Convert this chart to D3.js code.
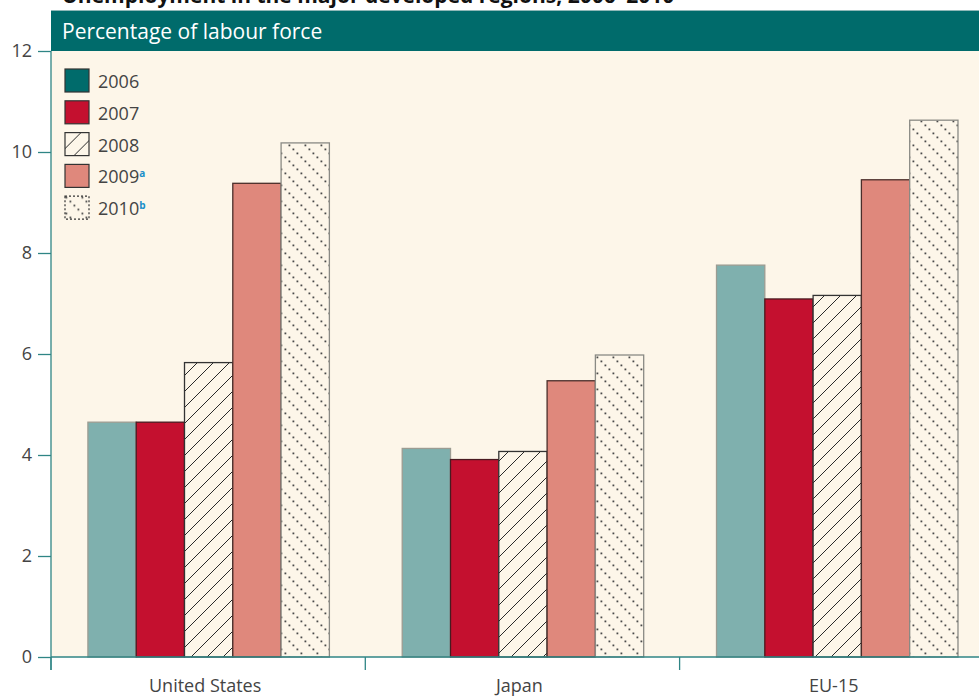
<!DOCTYPE html>
<html>
<head>
<meta charset="utf-8">
<script src="https://cdn.jsdelivr.net/npm/d3@7"></script>
<style>
  body { margin: 0; background: #fff; }
  text { font-family: "Open Sans", "Noto Sans", sans-serif; }
</style>
</head>
<body>
<div class="chart"></div>
<script>
const svgWidth = 979;
const svgHeight = 698;

// plot area (the cream panel), right side runs off the picture
const margin = { top: 51, left: 51, bottom: 41 };
const plotRight = 979;
const bandStep = 314.3;

// data
const regions = ["United States", "Japan", "EU-15"];
const years = ["2006", "2007", "2008", "2009", "2010"];
const yearNotes = ["", "", "", "a", "b"];
const values2006 = [4.65, 4.13, 7.76];
const values2007 = [4.65, 3.91, 7.09];
const values2008 = [5.83, 4.07, 7.16];
const values2009 = [9.38, 5.47, 9.45];
const values2010 = [10.18, 5.98, 10.63];
const yTicks = [0, 2, 4, 6, 8, 10, 12];

const seriesValues = [values2006, values2007, values2008, values2009, values2010];

const svg = d3.select(".chart")
  .append("svg")
  .attr("width", svgWidth)
  .attr("height", svgHeight);

// patterns for the hatched years
const defs = svg.append("defs");

const hatch = defs.append("pattern")
  .attr("id", "hatch")
  .attr("patternUnits", "userSpaceOnUse")
  .attr("width", 16)
  .attr("height", 16);
hatch.append("rect").attr("width", 16).attr("height", 16).attr("fill", "#fdf6e9");
hatch.append("path")
  .attr("d", "M0,16 L16,0 M-4,4 L4,-4 M12,20 L20,12")
  .attr("stroke", "#2a2a2a")
  .attr("stroke-width", 1);

// dotted diagonal lines running top-left to bottom-right
const dots = defs.append("pattern")
  .attr("id", "dots")
  .attr("patternUnits", "userSpaceOnUse")
  .attr("width", 16)
  .attr("height", 16);
dots.append("rect").attr("width", 16).attr("height", 16).attr("fill", "#fdf6e9");
[0, 4, 8, 12].forEach(d => {
  dots.append("rect")
    .attr("x", d + 0.5).attr("y", d + 0.5)
    .attr("width", 1.8).attr("height", 1.8)
    .attr("fill", "#4a4a4a");
});

const barFill = ["#7fb0ae", "#c4102f", "url(#hatch)", "#df887c", "url(#dots)"];
const barStroke = ["#9c9c92", "#4a1a20", "#333", "#4a2e2a", "#8a8a84"];
const legendFill = ["#006b6b", "#c4102f", "url(#hatch)", "#df887c", "url(#dots)"];
const legendStroke = ["#333", "#333", "#333", "#333", "#333"];

// title (cut off at the top of the picture, as in the source)
svg.append("text")
  .attr("x", 62)
  .attr("y", 3)
  .attr("font-size", 21)
  .attr("font-weight", 700)
  .attr("fill", "#111")
  .text("Unemployment in the major developed regions, 2006–2010");

// cream panel
svg.append("rect")
  .attr("x", margin.left)
  .attr("y", margin.top)
  .attr("width", plotRight - margin.left)
  .attr("height", svgHeight - margin.bottom - margin.top)
  .attr("fill", "#fdf6e9");

// header band
svg.append("rect")
  .attr("x", margin.left)
  .attr("y", 10)
  .attr("width", plotRight - margin.left)
  .attr("height", 41)
  .attr("fill", "#006b6b");
svg.append("line")
  .attr("x1", margin.left).attr("x2", plotRight)
  .attr("y1", 10.5).attr("y2", 10.5)
  .attr("stroke", "#8fb8b8");

svg.append("text")
  .attr("x", 62)
  .attr("y", 39)
  .attr("font-size", 21)
  .attr("fill", "#fff")
  .text("Percentage of labour force");

// scales
const yScale = d3.scaleLinear()
  .domain([0, 12])
  .range([svgHeight - margin.bottom, margin.top]);

const xScale = d3.scaleBand()
  .domain(regions)
  .range([margin.left, margin.left + bandStep * regions.length])
  .padding(0);

const xSub = d3.scaleBand()
  .domain(years)
  .range([0, xScale.bandwidth()])
  .paddingInner(0)
  .paddingOuter(0.754);

// bars
const barData = [];
regions.forEach((r, i) => {
  years.forEach((yr, j) => {
    barData.push({ region: r, year: yr, idx: j, value: seriesValues[j][i] });
  });
});

svg.append("g")
  .selectAll("rect")
  .data(barData)
  .enter()
  .append("rect")
  .attr("x", d => xScale(d.region) + xSub(d.year) + 0.5)
  .attr("y", d => yScale(d.value))
  .attr("width", xSub.bandwidth())
  .attr("height", d => yScale(0) - yScale(d.value))
  .attr("fill", d => barFill[d.idx])
  .attr("stroke", d => barStroke[d.idx])
  .attr("stroke-width", 1.3);

// axes
const axisColor = "#2f8585";

const leftAxis = d3.axisLeft(yScale)
  .tickValues(yTicks)
  .tickSize(13)
  .tickPadding(6);

const yAxis = svg.append("g")
  .attr("transform", `translate(${margin.left}, 0)`)
  .call(leftAxis);
yAxis.select(".domain").remove();
yAxis.append("line")
  .attr("x1", 0).attr("x2", 0)
  .attr("y1", margin.top).attr("y2", yScale(0) + 13)
  .attr("stroke", axisColor)
  .attr("stroke-width", 1.3);
yAxis.selectAll(".tick line").attr("stroke", axisColor).attr("stroke-width", 1.3);
yAxis.selectAll(".tick text")
  .attr("font-size", 18)
  .attr("fill", "#444")
  .attr("font-family", "\"Open Sans\", sans-serif");

const bottomAxis = d3.axisBottom(xScale).tickSize(0).tickPadding(22);
const xAxis = svg.append("g")
  .attr("transform", `translate(0, ${yScale(0)})`)
  .call(bottomAxis);
xAxis.select(".domain").remove();
xAxis.append("line")
  .attr("x1", margin.left).attr("x2", plotRight)
  .attr("y1", 0).attr("y2", 0)
  .attr("stroke", axisColor)
  .attr("stroke-width", 1.3);
xAxis.selectAll(".tick text")
  .attr("font-size", 18)
  .attr("fill", "#444")
  .attr("dx", -3)
  .attr("font-family", "\"Open Sans\", sans-serif");

// category boundary ticks
xAxis.selectAll(".sep")
  .data(regions.concat(["end"]))
  .enter()
  .append("line")
  .attr("x1", (d, i) => margin.left + i * xScale.step())
  .attr("x2", (d, i) => margin.left + i * xScale.step())
  .attr("y1", 0).attr("y2", 13)
  .attr("stroke", axisColor)
  .attr("stroke-width", 1.3);

// legend
const legend = svg.append("g")
  .attr("transform", "translate(65, 69)");

const legendRow = legend.selectAll("g")
  .data(years)
  .enter()
  .append("g")
  .attr("transform", (d, i) => `translate(0, ${i * 31.8})`);

legendRow.append("rect")
  .attr("width", 24)
  .attr("height", 23)
  .attr("fill", (d, i) => legendFill[i])
  .attr("stroke", (d, i) => legendStroke[i])
  .attr("stroke-width", 1.2)
  .attr("stroke-dasharray", (d, i) => i === 4 ? "2,2" : null);

const legendText = legendRow.append("text")
  .attr("x", 33)
  .attr("y", 19)
  .attr("font-size", 18)
  .attr("fill", "#444");
legendText.append("tspan").text(d => d);
legendText.append("tspan")
  .attr("dy", -6)
  .attr("font-size", 10)
  .attr("font-weight", 700)
  .attr("fill", "#1a8fc9")
  .text((d, i) => yearNotes[i]);
</script>
</body>
</html>
